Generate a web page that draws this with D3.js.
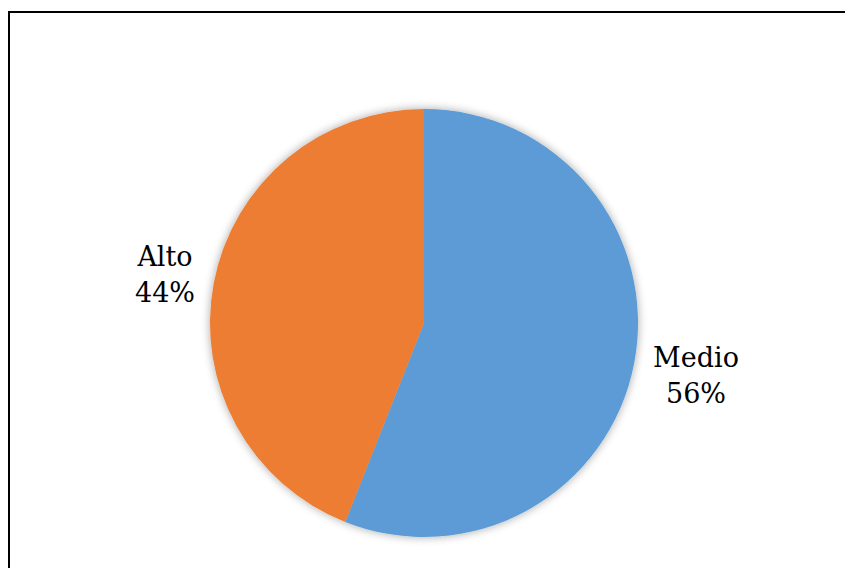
<!DOCTYPE html>
<html>
<head>
<meta charset="utf-8">
<script src="https://cdn.jsdelivr.net/npm/d3@7"></script>
<style>
  body { margin: 0; background: #fff; }
</style>
</head>
<body>
<script>
let width = 845,
    height = 568;

let categories = ["Medio", "Alto"];
let values = [56, 44];
let labels = ["56%", "44%"];
let colors = ["#5B9BD5", "#ED7D31"];

let svg = d3.select("body")
    .append("svg")
    .attr("width", width)
    .attr("height", height);

svg.append("rect")
    .attr("x", 9)
    .attr("y", 12)
    .attr("width", width + 10)
    .attr("height", height + 10)
    .attr("fill", "#fff")
    .attr("stroke", "#000")
    .attr("stroke-width", 2);

let defs = svg.append("defs");
let filter = defs.append("filter")
    .attr("id", "shadow")
    .attr("x", "-20%").attr("y", "-20%")
    .attr("width", "140%").attr("height", "140%");
filter.append("feGaussianBlur")
    .attr("in", "SourceAlpha")
    .attr("stdDeviation", 5);
filter.append("feComponentTransfer")
    .append("feFuncA")
    .attr("type", "linear")
    .attr("slope", 0.35);
let merge = filter.append("feMerge");
merge.append("feMergeNode");
merge.append("feMergeNode").attr("in", "SourceGraphic");

let cx = 424, cy = 323, r = 214;

let pie = d3.pie().sort(null).value(d => d);
let arc = d3.arc().innerRadius(0).outerRadius(r);

let g = svg.append("g")
    .attr("transform", "translate(" + cx + "," + cy + ")")
    .attr("filter", "url(#shadow)");

g.selectAll("path")
    .data(pie(values))
    .enter()
    .append("path")
    .attr("d", arc)
    .attr("fill", (d, i) => colors[i]);

// label positions outside the pie
let labelPos = [[696, 367], [165, 266]];

categories.forEach((c, i) => {
  let t = svg.append("text")
      .attr("x", labelPos[i][0])
      .attr("y", labelPos[i][1])
      .attr("text-anchor", "middle")
      .attr("font-family", "DejaVu Serif")
      .attr("font-size", 27)
      .attr("fill", "#000");
  t.append("tspan").attr("x", labelPos[i][0]).text(c);
  t.append("tspan").attr("x", labelPos[i][0]).attr("dy", 36).text(labels[i]);
});
</script>
</body>
</html>
